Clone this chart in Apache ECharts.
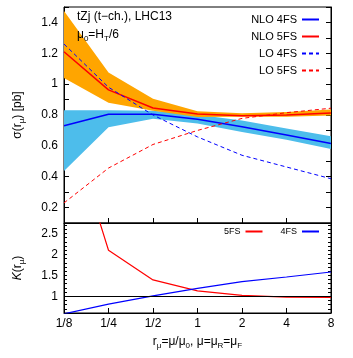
<!DOCTYPE html>
<html>
<head>
<meta charset="utf-8">
<script src="https://cdn.jsdelivr.net/npm/echarts@6/dist/echarts.min.js"></script>
<style>
  html, body { margin: 0; padding: 0; background: #fff; }
  #chart { width: 353px; height: 358px; }
</style>
</head>
<body>
<div id="chart"></div>
<script>
// scale ratio r = mu/mu0
var rValues = [0.125, 0.25, 0.5, 1, 2, 4, 8];

// cross sections [pb]
var nlo4 = [0.73, 0.805, 0.805, 0.772, 0.724, 0.670, 0.615];
var nlo4Low = [0.437, 0.72, 0.776, 0.745, 0.69, 0.64, 0.58];
var nlo4High = [0.83, 0.83, 0.828, 0.802, 0.765, 0.713, 0.663];
var nlo5 = [1.21, 0.963, 0.845, 0.806, 0.795, 0.800, 0.813];
var nlo5Low = [1.04, 0.88, 0.828, 0.787, 0.788, 0.788, 0.797];
var nlo5High = [1.474, 1.076, 0.905, 0.824, 0.812, 0.82, 0.835];
var lo4 = [1.26, 0.98, 0.80, 0.658, 0.539, 0.463, 0.387];
var lo5 = [0.23, 0.456, 0.609, 0.70, 0.778, 0.815, 0.844];

// K factors
var k5 = [5.5, 2.10, 1.39, 1.13, 1.02, 0.98, 0.975];
var k4 = [0.58, 0.81, 1.01, 1.19, 1.35, 1.46, 1.58];

var FONT = 'Liberation Sans';

function pairs(ys) {
  return rValues.map(function (r, i) { return [r, ys[i]]; });
}

// band drawn as one polygon through the axis scale
function bandSeries(low, high, color) {
  return {
    type: 'custom',
    xAxisIndex: 0,
    yAxisIndex: 0,
    clip: true,
    silent: true,
    z: 1,
    data: pairs(high),
    renderItem: function (params, api) {
      if (params.dataIndex !== 0) return;
      var pts = [];
      for (var i = 0; i < rValues.length; i++) pts.push(api.coord([rValues[i], high[i]]));
      for (var j = rValues.length - 1; j >= 0; j--) pts.push(api.coord([rValues[j], low[j]]));
      return {
        type: 'polygon',
        shape: { points: pts },
        style: { fill: color, stroke: null }
      };
    }
  };
}

function lineSeries(name, ys, color, dashed, width, axisIdx) {
  return {
    name: name,
    type: 'line',
    xAxisIndex: axisIdx,
    yAxisIndex: axisIdx === 0 ? 0 : 2,
    data: pairs(ys),
    symbol: 'none',
    clip: true,
    z: 3,
    lineStyle: { color: color, width: width, type: dashed ? [4, 3] : 'solid' },
    itemStyle: { color: color }
  };
}

function rLabel(v) {
  if (v < 1) return '1/' + Math.round(1 / v);
  return String(Math.round(v));
}

var xBase = {
  type: 'log',
  logBase: 2,
  min: 0.125,
  max: 8,
  splitNumber: 6,
  axisLine: { show: true, lineStyle: { color: '#000', width: 1 } },
  axisTick: { show: true, inside: true, length: 5, lineStyle: { color: '#000' } },
  splitLine: { show: false },
  minorTick: { show: false },
  minorSplitLine: { show: false }
};

function yAxisDef(grid, pos, min, max, showLabels, labelEvery) {
  return {
    type: 'value',
    gridIndex: grid,
    position: pos,
    min: min,
    max: max,
    interval: 0.1,
    axisLine: { show: true, lineStyle: { color: '#000', width: 1 } },
    axisTick: { show: true, inside: true, length: grid === 0 ? 5 : 3, lineStyle: { color: '#000' } },
    splitLine: { show: false },
    axisLabel: {
      show: showLabels,
      margin: 6,
      color: '#000',
      fontSize: 12,
      fontFamily: FONT,
      formatter: function (v) {
        var t = Math.round(v * 10);
        if (t % labelEvery !== 0) return '';
        return String(t / 10);
      }
    }
  };
}

var chart = echarts.init(document.getElementById('chart'), null, { renderer: 'canvas' });

var subRich = {
  s: { fontSize: 8, fontFamily: FONT, color: '#000', verticalAlign: 'bottom', lineHeight: 9 },
  k: { fontSize: 12, fontFamily: FONT, color: '#000', fontStyle: 'italic', lineHeight: 16 }
};

var option = {
  animation: false,
  textStyle: { fontFamily: FONT },
  grid: [
    { left: 64, top: 7, width: 267, height: 216, show: true, borderColor: '#000', borderWidth: 1, backgroundColor: 'transparent' },
    { left: 64, top: 223, width: 267, height: 90, show: true, borderColor: '#000', borderWidth: 1, backgroundColor: 'transparent' }
  ],
  xAxis: [
    Object.assign({}, xBase, { gridIndex: 0, axisLabel: { show: false } }),
    Object.assign({}, xBase, {
      gridIndex: 1,
      axisLabel: { show: true, margin: 5, color: '#000', fontSize: 12, fontFamily: FONT, formatter: rLabel },
      name: 'r{s|μ}=μ/μ{s|0}, μ=μ{s|R}=μ{s|F}',
      nameLocation: 'middle',
      nameGap: 21,
      nameTextStyle: { color: '#000', fontSize: 12, fontFamily: FONT, lineHeight: 16, rich: subRich }
    })
  ],
  yAxis: [
    Object.assign(yAxisDef(0, 'left', 0.1, 1.5, true, 2), {
      name: 'σ(r{s|μ}) [pb]',
      nameLocation: 'middle',
      nameGap: 38,
      nameTextStyle: { color: '#000', fontSize: 12, fontFamily: FONT, lineHeight: 16, rich: subRich }
    }),
    yAxisDef(0, 'right', 0.1, 1.5, false, 2),
    Object.assign(yAxisDef(1, 'left', 0.6, 2.75, true, 5), {
      name: '{k|K}(r{s|μ})',
      nameLocation: 'middle',
      nameGap: 38,
      nameTextStyle: { color: '#000', fontSize: 12, fontFamily: FONT, lineHeight: 16, rich: subRich }
    }),
    yAxisDef(1, 'right', 0.6, 2.75, false, 5)
  ],
  legend: [
    {
      data: ['NLO 4FS', 'NLO 5FS', 'LO 4FS', 'LO 5FS'],
      orient: 'vertical',
      align: 'right',
      right: 33,
      top: 14,
      itemWidth: 17,
      itemHeight: 8,
      itemGap: 6,
      padding: 0,
      itemStyle: { opacity: 0 },
      textStyle: { color: '#000', fontSize: 11, fontFamily: FONT },
      selectedMode: false
    },
    {
      data: ['5FS', '4FS'],
      orient: 'horizontal',
      align: 'right',
      right: 33,
      top: 227,
      itemWidth: 17,
      itemHeight: 8,
      itemGap: 17,
      padding: 0,
      itemStyle: { opacity: 0 },
      textStyle: { color: '#000', fontSize: 9, fontFamily: FONT },
      selectedMode: false
    }
  ],
  graphic: [
    {
      type: 'text',
      left: 77,
      top: 11,
      z: 100,
      style: { text: 'tZj (t−ch.), LHC13', fill: '#000', fontSize: 12, fontFamily: FONT }
    },
    {
      type: 'text',
      left: 77,
      top: 27,
      z: 100,
      style: {
        text: 'μ{s|0}=H{s|T}/6',
        fill: '#000',
        fontSize: 12,
        fontFamily: FONT,
        lineHeight: 16,
        rich: subRich
      }
    }
  ],
  series: [
    bandSeries(nlo4Low, nlo4High, '#4DBDEB'),
    bandSeries(nlo5Low, nlo5High, '#FFA500'),
    lineSeries('NLO 4FS', nlo4, '#0000FF', false, 1.5, 0),
    lineSeries('NLO 5FS', nlo5, '#FF0000', false, 1.5, 0),
    lineSeries('LO 4FS', lo4, '#0000FF', true, 1, 0),
    lineSeries('LO 5FS', lo5, '#FF0000', true, 1, 0),
    Object.assign(lineSeries('5FS', k5, '#FF0000', false, 1.2, 1), {
      markLine: {
        silent: true,
        symbol: 'none',
        label: { show: false },
        lineStyle: { color: '#000', width: 1.2, type: 'solid' },
        data: [{ yAxis: 1 }]
      }
    }),
    lineSeries('4FS', k4, '#0000FF', false, 1.2, 1)
  ]
};

chart.setOption(option);
window.addEventListener('resize', chart.resize);
</script>
</body>
</html>
